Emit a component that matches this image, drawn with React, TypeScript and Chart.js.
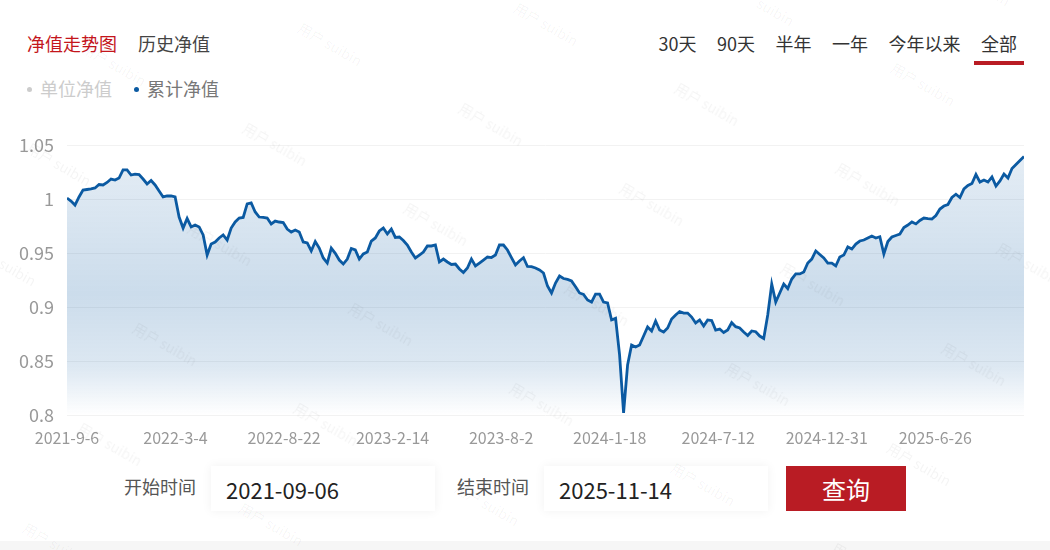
import React, { useEffect, useRef } from "react";
import { Chart, registerables } from "chart.js";

Chart.register(...registerables);

// 累计净值, evenly spaced samples over 2021-09-06 … 2025-11-14
const navValues: number[] = [
  1.0009, 0.9981, 0.9944, 1.0019, 1.0083, 1.0088, 1.0093, 1.0102, 1.0134, 1.013,
  1.0153, 1.0185, 1.0176, 1.0194, 1.0269, 1.0269, 1.0222, 1.0231, 1.0227, 1.0185,
  1.0139, 1.0171, 1.013, 1.0074, 1.0019, 1.0028, 1.0028, 1.0019, 0.9833, 0.9731,
  0.9819, 0.9741, 0.9759, 0.9741, 0.9667, 0.9481, 0.9583, 0.9602, 0.9639, 0.9667,
  0.962, 0.9731, 0.9787, 0.9824, 0.9829, 0.9954, 0.9963, 0.988, 0.9833, 0.9829,
  0.9824, 0.9769, 0.9796, 0.9787, 0.9782, 0.9722, 0.9694, 0.9713, 0.9694, 0.9602,
  0.9593, 0.9519, 0.9606, 0.9546, 0.9454, 0.9407, 0.9546, 0.9497, 0.9435, 0.9398,
  0.9444, 0.9542, 0.9528, 0.9444, 0.9491, 0.9509, 0.9611, 0.9639, 0.9704, 0.9731,
  0.9676, 0.9722, 0.9644, 0.9648, 0.9616, 0.9574, 0.9509, 0.9454, 0.9481, 0.9509,
  0.9565, 0.9565, 0.9574, 0.9417, 0.9444, 0.9417, 0.9394, 0.9398, 0.9352, 0.9319,
  0.9361, 0.9444, 0.938, 0.9407, 0.9435, 0.9463, 0.9458, 0.9481, 0.9574, 0.9574,
  0.9528, 0.9458, 0.9389, 0.9426, 0.9457, 0.9375, 0.9373, 0.9361, 0.9343, 0.9315,
  0.9194, 0.913, 0.9222, 0.9287, 0.9264, 0.9255, 0.9241, 0.9188, 0.913, 0.9116,
  0.9065, 0.9046, 0.912, 0.912, 0.9046, 0.9037, 0.888, 0.8895, 0.8556, 0.8019,
  0.8463, 0.8648, 0.863, 0.8648, 0.8731, 0.8815, 0.8778, 0.887, 0.8787, 0.8769,
  0.8806, 0.8889, 0.8926, 0.8958, 0.8944, 0.8944, 0.8907, 0.8852, 0.888, 0.8824,
  0.888, 0.8875, 0.8787, 0.8796, 0.8764, 0.8787, 0.8855, 0.8818, 0.8806, 0.8769,
  0.8736, 0.8778, 0.8771, 0.8731, 0.8708, 0.8926, 0.9213, 0.9046, 0.913, 0.9213,
  0.9171, 0.9259, 0.9306, 0.9306, 0.9324, 0.9407, 0.9444, 0.9519, 0.9486, 0.9454,
  0.9407, 0.9407, 0.938, 0.9463, 0.9481, 0.9556, 0.9537, 0.9583, 0.9611, 0.962,
  0.9639, 0.9657, 0.9639, 0.9651, 0.9491, 0.9606, 0.9648, 0.9662, 0.9676, 0.9736,
  0.9759, 0.9787, 0.9769, 0.9801, 0.9824, 0.9819, 0.9815, 0.9847, 0.9907, 0.9935,
  0.9949, 1.0014, 1.0044, 1.0014, 1.0093, 1.0125, 1.0144, 1.0227, 1.0157, 1.0176,
  1.0157, 1.0204, 1.012, 1.0167, 1.0231, 1.0194, 1.0282, 1.0319, 1.0357, 1.0394,
];

const xTickLabels = [
  "2021-9-6", "2022-3-4", "2022-8-22", "2023-2-14", "2023-8-2",
  "2024-1-18", "2024-7-12", "2024-12-31", "2025-6-26",
];
const TOTAL_TRADING_DAYS = 1014;
const TICK_STEP_DAYS = 115;

const yTickValues = [0.8, 0.85, 0.9, 0.95, 1, 1.05];
const Y_MIN = 0.8;
const Y_MAX = 1.05;

const chartTabs = ["净值走势图", "历史净值"];
const activeChartTab = "净值走势图";
const rangeTabs = ["30天", "90天", "半年", "一年", "今年以来", "全部"];
const activeRange = "全部";
const legendNames = ["单位净值", "累计净值"];
const activeLegend = "累计净值";
const startLabel = "开始时间";
const endLabel = "结束时间";
const startDate = "2021-09-06";
const endDate = "2025-11-14";
const queryText = "查询";
const watermarkText = "用户 suibin";

const FONT = '"Noto Sans CJK SC", "Noto Sans", sans-serif';
const LINE = "#0b5aa2";
const RED = "#b91c24";

function NavChart() {
  const ref = useRef<HTMLCanvasElement>(null);
  useEffect(() => {
    const canvas = ref.current;
    if (!canvas) return;
    const last = navValues.length - 1;
    const chart = new Chart(canvas, {
      type: "line",
      data: {
        datasets: [
          {
            label: "累计净值",
            data: navValues.map((v, i) => ({ x: i, y: v })),
            borderColor: LINE,
            borderWidth: 2.8,
            pointRadius: 0,
            tension: 0,
            fill: "start",
            backgroundColor: (ctx: any) => {
              const c = ctx.chart;
              const area = c.chartArea;
              if (!area) return "rgba(11,90,162,0.15)";
              const g = c.ctx.createLinearGradient(0, area.top, 0, area.bottom);
              g.addColorStop(0, "rgba(11,90,162,0.10)");
              g.addColorStop(0.55, "rgba(11,90,162,0.21)");
              g.addColorStop(0.82, "rgba(11,90,162,0.14)");
              g.addColorStop(1, "rgba(11,90,162,0.0)");
              return g;
            },
          },
        ],
      },
      options: {
        responsive: false,
        maintainAspectRatio: false,
        animation: false,
        layout: { padding: { top: 25, right: 16, left: 0, bottom: 0 } },
        plugins: { legend: { display: false }, tooltip: { enabled: false } },
        scales: {
          x: {
            type: "linear",
            min: 0,
            max: last,
            grid: { display: false },
            border: { display: false },
            afterBuildTicks: (axis: any) => {
              axis.ticks = xTickLabels.map((_, k) => ({
                value: ((k * TICK_STEP_DAYS) / TOTAL_TRADING_DAYS) * last,
              }));
            },
            afterFit: (axis: any) => {
              axis.height = 35;
            },
            ticks: {
              autoSkip: false,
              maxRotation: 0,
              padding: 5,
              color: "#999",
              font: { family: FONT, size: 16 },
              callback: (_v: any, idx: number) => xTickLabels[idx],
            },
          },
          y: {
            min: Y_MIN,
            max: Y_MAX,
            afterBuildTicks: (axis: any) => {
              axis.ticks = yTickValues.map((v) => ({ value: v }));
            },
            afterFit: (axis: any) => {
              axis.width = 67;
            },
            grid: { color: "#f2f2f2", drawTicks: false, lineWidth: 1 },
            border: { display: false },
            ticks: {
              padding: 13,
              color: "#999",
              font: { family: FONT, size: 18 },
              callback: (v: any) => String(Number(Number(v).toFixed(2))),
            },
          },
        },
      },
    } as any);
    return () => chart.destroy();
  }, []);
  return (
    <canvas
      ref={ref}
      width={1040}
      height={330}
      style={{ position: "absolute", left: 0, top: 120, width: 1040, height: 330 }}
    />
  );
}

function Watermarks() {
  const items: { x: number; y: number }[] = [];
  for (let i = -3; i <= 6; i++) {
    for (let j = -3; j <= 4; j++) {
      const x = 193 + i * 216 - j * 55;
      const y = 220 - i * 20 + j * 100;
      if (x > -90 && x < 1050 && y > -45 && y < 550) items.push({ x, y });
    }
  }
  return (
    <>
      {items.map((p, k) => (
        <div
          key={k}
          style={{
            position: "absolute",
            left: p.x,
            top: p.y,
            transform: "rotate(30deg)",
            transformOrigin: "left top",
            fontFamily: FONT,
            fontSize: 14,
            lineHeight: "14px",
            whiteSpace: "nowrap",
            color: "rgba(0,0,0,0.045)",
            pointerEvents: "none",
          }}
        >
          {watermarkText}
        </div>
      ))}
    </>
  );
}

export default function App() {
  useEffect(() => {
    document.body.style.margin = "0";
  }, []);
  return (
    <div
      style={{
        position: "relative",
        width: 1050,
        height: 550,
        overflow: "hidden",
        background: "#fff",
        fontFamily: FONT,
      }}
    >
      {/* top-left tabs */}
      <div style={{ position: "absolute", left: 27, top: 34, display: "flex", gap: 21 }}>
        {chartTabs.map((t) => (
          <span
            key={t}
            style={{
              fontSize: 18,
              lineHeight: "18px",
              color: t === activeChartTab ? "#c4161c" : "#444",
            }}
          >
            {t}
          </span>
        ))}
      </div>

      {/* range tabs */}
      <div style={{ position: "absolute", right: 26, top: 34, display: "flex", gap: 6.5 }}>
        {rangeTabs.map((t) => (
          <span
            key={t}
            style={{
              fontSize: 18,
              lineHeight: "18px",
              color: "#333",
              padding: "0 7px 9px",
              borderBottom: `4px solid ${t === activeRange ? RED : "transparent"}`,
            }}
          >
            {t}
          </span>
        ))}
      </div>

      {/* legend */}
      <div style={{ position: "absolute", left: 27, top: 79, display: "flex", gap: 22 }}>
        {legendNames.map((n) => {
          const on = n === activeLegend;
          return (
            <div key={n} style={{ display: "flex", alignItems: "center", gap: 8 }}>
              <span
                style={{
                  width: 5,
                  height: 5,
                  borderRadius: "50%",
                  background: on ? LINE : "#ccc",
                  marginTop: 3,
                }}
              />
              <span style={{ fontSize: 18, lineHeight: "18px", color: on ? "#777" : "#ccc" }}>
                {n}
              </span>
            </div>
          );
        })}
      </div>

      <NavChart />

      {/* query form */}
      <div
        style={{
          position: "absolute",
          left: 124,
          top: 466,
          height: 45,
          display: "flex",
          alignItems: "center",
        }}
      >
        <span style={{ fontSize: 18, color: "#555", marginTop: -5 }}>{startLabel}</span>
        <div
          style={{
            marginLeft: 15,
            width: 224,
            height: 45,
            background: "#fff",
            boxShadow: "0 0 10px rgba(0,0,0,0.06)",
            display: "flex",
            alignItems: "center",
            paddingLeft: 15,
            boxSizing: "border-box",
            fontSize: 22,
            color: "#222",
          }}
        >
          {startDate}
        </div>
        <span style={{ fontSize: 18, color: "#555", marginLeft: 22, marginTop: -5 }}>{endLabel}</span>
        <div
          style={{
            marginLeft: 15,
            width: 224,
            height: 45,
            background: "#fff",
            boxShadow: "0 0 10px rgba(0,0,0,0.06)",
            display: "flex",
            alignItems: "center",
            paddingLeft: 15,
            boxSizing: "border-box",
            fontSize: 22,
            color: "#222",
          }}
        >
          {endDate}
        </div>
        <div
          style={{
            marginLeft: 18,
            width: 120,
            height: 45,
            background: RED,
            color: "#fff",
            fontSize: 24,
            display: "flex",
            alignItems: "center",
            justifyContent: "center",
          }}
        >
          {queryText}
        </div>
      </div>

      {/* bottom strip */}
      <div
        style={{
          position: "absolute",
          left: 0,
          top: 541,
          width: 1050,
          height: 9,
          background: "#f6f6f6",
        }}
      />

      <Watermarks />
    </div>
  );
}
